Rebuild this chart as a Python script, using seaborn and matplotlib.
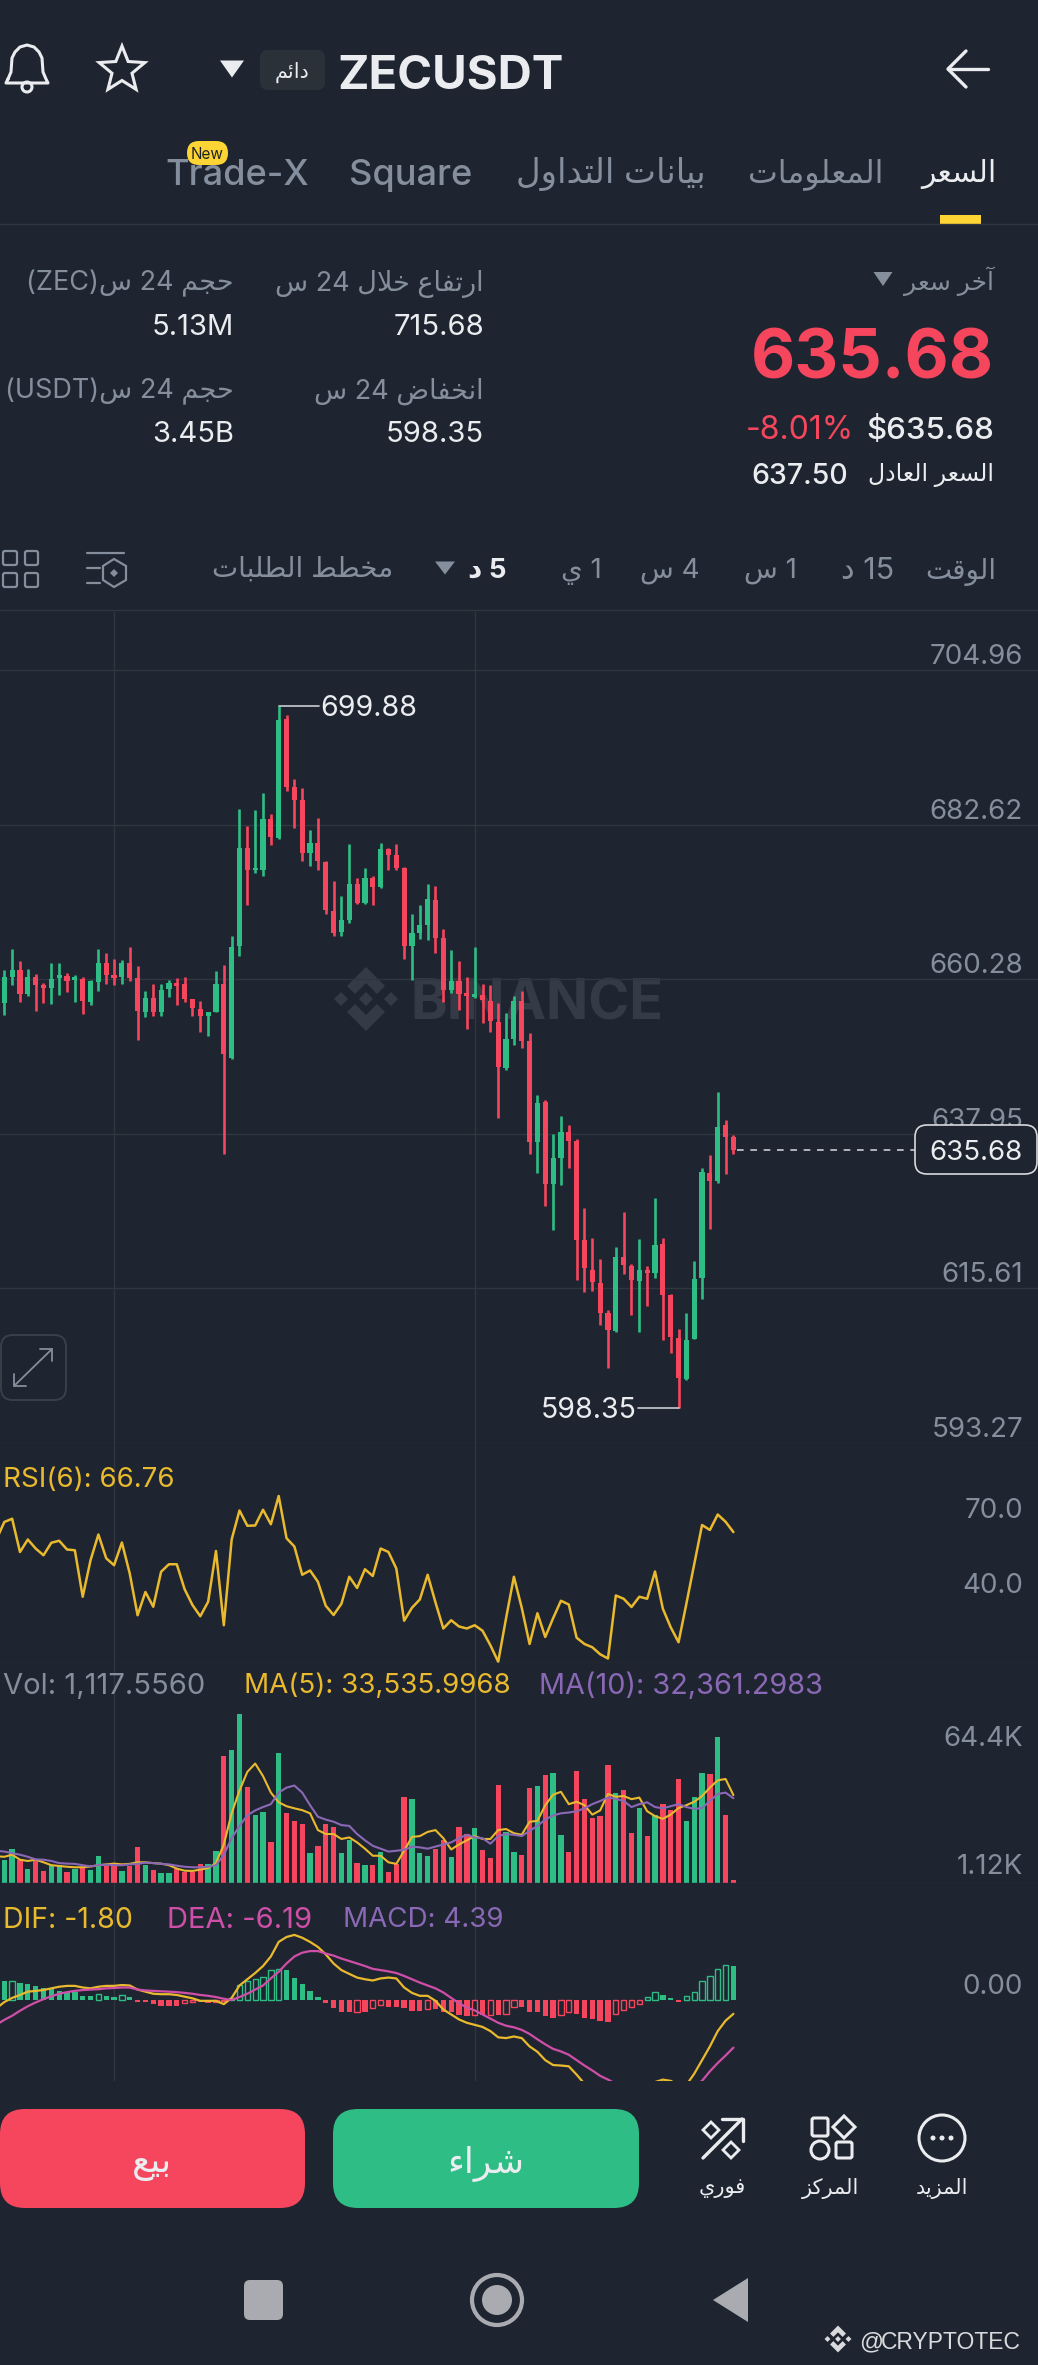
import re
import numpy as np
import pandas as pd
import matplotlib
matplotlib.use('Agg')
import matplotlib.pyplot as plt
import seaborn as sns
from matplotlib.patches import FancyBboxPatch, Polygon, Circle

W, H = 1038, 2365
BG = '#1f2530'
GRID = '#30363f'
GREEN = '#2ebd85'
RED = '#f6465d'
YELLOW = '#e9b92e'
PINK = '#cf4fa8'
PURPLE = '#8a68b5'
GRAY = '#848e9c'
WHITE = '#eaecef'

# candles
opens = [656.86, 660.62, 661.59, 658.21, 660.62, 659.42, 659.03, 660.48, 660.77, 660.14,
         660.33, 657.01, 659.85, 662.64, 660.96, 660.62, 662.64, 660.48, 655.52, 657.59,
         655.52, 658.89, 659.75, 659.66, 657.44, 656.05, 654.94, 655.56, 659.56, 648.92,
         665.15, 679.22, 676.04, 676.13, 683.50, 680.71, 697.91, 688.18, 686.20, 678.54,
         679.99, 677.24, 670.21, 667.08, 668.81, 674.06, 671.41, 675.02, 673.63, 679.19,
         678.22, 676.39, 665.08, 666.96, 668.22, 671.82, 666.22, 658.79, 660.05, 658.22,
         657.76, 658.10, 657.19, 654.10, 647.48, 651.65, 657.19, 651.36, 636.79, 642.50,
         630.68, 634.50, 638.20, 636.96, 622.68, 618.33, 616.39, 612.05, 609.53, 620.22,
         618.91, 616.73, 618.33, 617.82, 622.11, 614.62, 608.51, 602.51, 608.33, 617.08,
         632.33, 631.08, 639.19, 637.54]
closes = [660.62, 661.59, 658.21, 660.57, 659.52, 659.03, 660.38, 660.86, 660.09, 660.62,
          657.11, 660.00, 662.64, 660.96, 660.48, 662.64, 660.48, 655.66, 657.59, 655.52,
          658.79, 659.75, 659.27, 657.44, 656.14, 654.94, 655.56, 659.56, 649.50, 665.05,
          679.22, 676.04, 676.37, 683.45, 680.95, 697.81, 688.18, 686.25, 678.54, 679.99,
          677.34, 670.26, 666.98, 668.81, 674.06, 671.41, 675.02, 673.63, 679.17, 678.33,
          676.39, 665.19, 666.96, 668.16, 671.93, 666.22, 658.79, 660.05, 658.22, 657.88,
          658.22, 657.25, 654.22, 647.65, 651.65, 657.19, 651.36, 636.79, 642.45, 630.68,
          634.45, 638.20, 636.96, 622.68, 618.51, 616.51, 612.10, 609.65, 620.22, 618.96,
          616.79, 618.33, 617.82, 621.93, 614.62, 608.62, 602.62, 608.11, 616.96, 632.50,
          631.19, 638.96, 637.54, 635.68]
highs = [661.68, 664.67, 662.98, 661.83, 661.05, 659.75, 662.64, 662.64, 661.20, 660.86,
         660.62, 660.24, 664.67, 664.09, 663.22, 663.13, 664.96, 662.26, 658.55, 659.61,
         659.61, 660.24, 660.48, 660.62, 657.49, 657.11, 655.56, 661.54, 662.40, 666.50,
         684.95, 682.49, 684.80, 687.31, 684.23, 699.88, 698.53, 689.28, 687.93, 681.91,
         683.60, 677.34, 674.45, 672.28, 679.89, 674.93, 676.37, 675.31, 680.00, 679.36,
         679.82, 676.50, 669.82, 671.07, 674.05, 673.82, 667.59, 664.50, 662.90, 660.62,
         664.96, 659.65, 659.53, 656.90, 655.47, 657.93, 658.68, 652.50, 643.65, 642.90,
         637.93, 640.50, 639.25, 637.19, 627.19, 622.90, 619.93, 612.51, 621.65, 626.68,
         619.08, 622.79, 618.79, 628.62, 622.90, 614.79, 609.82, 612.11, 619.65, 632.96,
         634.96, 644.05, 639.93, 637.76]
lows = [655.18, 659.42, 657.01, 657.92, 655.66, 656.86, 656.72, 658.07, 658.45, 657.06,
        655.32, 656.53, 658.55, 659.66, 659.42, 659.66, 660.00, 651.57, 654.84, 655.03,
        655.03, 657.68, 656.62, 657.01, 655.03, 652.67, 652.14, 655.52, 635.00, 648.77,
        663.70, 670.98, 675.65, 675.31, 679.75, 680.56, 687.60, 682.15, 677.34, 676.71,
        676.04, 669.73, 666.50, 666.50, 668.52, 671.17, 671.22, 670.98, 673.58, 676.10,
        676.10, 663.25, 660.16, 666.10, 665.93, 664.05, 657.08, 658.33, 655.93, 653.08,
        657.65, 653.93, 652.68, 640.20, 647.25, 650.79, 650.33, 635.08, 632.33, 627.48,
        624.05, 630.50, 633.08, 616.79, 615.08, 615.19, 610.39, 604.11, 609.36, 617.65,
        611.71, 609.36, 613.08, 617.08, 608.11, 606.22, 598.35, 602.34, 608.33, 614.11,
        624.22, 630.90, 632.10, 635.08]

# the indicator lines start one bar left of the screen edge, hence one value more
rsi = [63.8, 70.8, 72.1, 58.8, 63.8, 60.2, 57.5, 62.5, 63.3, 59.8, 59.5, 40.9, 55.5, 65.8, 56.3, 53.5, 62.6,
       50.2, 33.5, 42.8, 36.9, 50.9, 53.9, 53.9, 43.9, 37.6, 33.1, 38.9, 59.2, 29.5, 63.8, 75.4, 69.3,
       69.4, 75.7, 69.9, 81.2, 64.3, 61.0, 49.7, 51.4, 46.9, 37.3, 33.6, 38.1, 48.9, 44.4, 51.9, 49.2,
       60.2, 58.8, 52.2, 31.3, 36.5, 39.8, 49.7, 38.6, 28.2, 31.5, 29.0, 28.2, 29.5, 27.3, 21.5, 14.9,
       32.3, 48.9, 36.5, 22.0, 34.3, 24.8, 32.3, 39.3, 37.8, 24.5, 22.0, 20.7, 17.9, 16.2, 41.4, 40.1,
       36.8, 40.9, 40.1, 51.0, 36.1, 28.7, 22.7, 38.1, 53.9, 69.6, 67.6, 73.8, 70.9, 66.76]

# volume in thousands
volume = [8.9, 13.1, 8.9, 5.2, 8.4, 4.4, 6.8, 6.8, 4.1, 5.5, 6.0, 5.1, 10.3, 6.5, 6.3, 4.4, 6.5, 13.6,
          6.8, 4.9, 4.0, 3.8, 5.2, 4.1, 4.1, 7.3, 7.3, 12.3, 48.6, 50.6, 64.4, 36.7, 26.1, 27.1, 15.5,
          49.5, 26.6, 23.7, 22.6, 11.5, 14.2, 22.6, 21.5, 11.5, 16.3, 7.6, 7.0, 6.8, 12.0, 4.1, 7.3,
          32.7, 32.0, 11.4, 10.4, 13.1, 16.3, 10.1, 21.5, 18.7, 21.0, 12.7, 9.5, 37.3, 19.5, 12.0, 10.8,
          36.1, 37.2, 41.4, 42.1, 18.2, 11.7, 42.7, 32.1, 25.0, 25.5, 45.1, 34.2, 35.6, 19.0, 28.5, 17.9,
          25.8, 30.2, 27.7, 39.6, 23.7, 32.9, 41.9, 41.6, 55.7, 26.1, 1.12]
vol_ma5 = [10.2, 10.0, 10.8, 8.9, 8.4, 8.9, 7.9, 6.8, 6.5, 6.2, 6.0, 6.0, 6.3, 6.8, 7.1, 7.4, 7.1, 7.3, 7.9,
           7.9, 7.6, 7.4, 6.8, 5.5, 4.7, 4.6, 5.1, 5.7, 7.6, 14.7, 26.6, 35.3, 42.4, 45.6, 40.8, 34.5,
           30.8, 29.3, 28.5, 27.8, 26.6, 20.2, 18.7, 18.7, 16.8, 17.4, 15.5, 13.1, 10.4, 10.4, 7.9, 7.3,
           12.3, 17.6, 17.9, 19.5, 20.2, 17.1, 12.8, 14.7, 16.3, 17.9, 16.8, 16.8, 20.2, 20.6, 19.0, 18.4,
           23.4, 23.7, 29.7, 33.7, 34.8, 30.1, 31.0, 29.7, 26.1, 27.7, 34.0, 32.9, 33.2, 32.0, 32.6, 27.4,
           25.5, 24.5, 26.1, 28.6, 29.7, 31.0, 33.2, 36.4, 39.2, 39.7, 33.54]
vol_ma10 = [12.3, 12.0, 11.4, 10.8, 10.0, 9.0, 8.9, 8.4, 7.6, 7.4, 7.3, 6.8, 6.3, 6.8, 7.0, 6.8, 6.8, 7.1, 7.3,
            7.8, 7.6, 7.3, 7.1, 6.6, 6.2, 6.0, 6.0, 6.2, 6.8, 10.8, 17.1, 21.8, 25.8, 27.7, 29.0, 30.1,
            34.5, 36.4, 37.2, 34.5, 29.7, 25.3, 24.2, 23.4, 22.1, 21.8, 18.7, 16.3, 14.2, 13.1, 12.0, 12.3,
            12.7, 13.9, 13.6, 13.1, 13.9, 14.7, 15.5, 17.1, 18.4, 17.4, 17.1, 15.0, 17.9, 18.7, 18.4, 17.9,
            19.9, 21.8, 24.2, 25.8, 26.6, 26.9, 27.4, 28.5, 30.1, 31.3, 32.6, 32.1, 31.3, 29.0, 30.1, 30.8,
            29.0, 28.5, 29.3, 30.1, 29.0, 28.3, 28.6, 31.3, 34.0, 34.5, 32.36]

macd = [2.4, 2.5, 2.15, 2.05, 1.8, 1.6, 1.5, 1.2, 1.0, 1.0, 0.55, 0.55, 0.8, 0.5, 0.45, 0.7, 0.4,
        -0.2, -0.2, -0.5, -0.8, -0.8, -0.8, -0.4, -0.2, -0.3, -0.4, -0.3, -0.1, 0.2, 2.0, 2.5, 2.7,
        3.0, 3.9, 4.0, 3.9, 2.9, 2.1, 1.2, 0.4, -0.4, -1.0, -1.5, -1.6, -1.5, -1.5, -1.0, -0.7, -0.9,
        -0.9, -1.1, -1.4, -1.4, -1.2, -1.2, -1.6, -1.6, -1.9, -2.1, -2.0, -2.0, -1.9, -1.9, -1.8, -0.9,
        -0.9, -1.5, -1.6, -2.1, -2.4, -1.9, -1.6, -1.8, -2.3, -2.5, -2.7, -2.9, -1.8, -1.3, -0.9, -0.5,
        0.4, 1.0, 0.6, 0.3, -0.2, 0.5, 1.0, 2.5, 3.1, 4.0, 4.5, 4.39]
dif = [-1.08, -0.27, 0.27, 0.65, 1.08, 1.18, 1.29, 1.51, 1.72, 1.83, 1.83, 1.62, 1.51, 1.72, 1.83, 1.83, 1.94,
       1.88, 1.35, 1.08, 0.81, 0.75, 0.75, 0.65, 0.43, 0.22, -0.11, -0.11, -0.11, -0.54, 0.27, 1.88, 2.69,
       3.5, 4.41, 5.65, 7.54, 8.18, 8.45, 8.08, 7.54, 6.89, 5.92, 4.74, 3.88, 3.39, 2.91, 2.69, 2.53, 2.8,
       2.91, 2.8, 1.62, 0.92, 0.54, 0.54, -0.11, -1.24, -1.88, -2.53, -2.96, -3.23, -3.5, -4.04, -4.85,
       -4.95, -4.74, -4.95, -6.03, -6.73, -7.81, -8.45, -8.51, -8.61, -9.69, -10.88, -11.58, -12.11, -12.65,
       -12.92, -12.65, -12.28, -11.84, -11.2, -10.66, -10.34, -10.5, -11.04, -11.04, -9.58, -7.81, -6.03,
       -4.04, -2.69, -1.8]
dea = [-3.2, -2.58, -2.05, -1.4, -0.81, -0.32, 0.11, 0.48, 0.81, 1.02, 1.18, 1.29, 1.35, 1.4, 1.51, 1.56, 1.62,
       1.62, 1.35, 1.24, 1.18, 1.13, 1.08, 1.02, 0.92, 0.81, 0.65, 0.54, 0.38, 0.16, 0.0, 0.38, 0.81, 1.35,
       1.88, 2.8, 3.66, 4.74, 5.65, 6.14, 6.35, 6.35, 6.03, 5.76, 5.38, 5.06, 4.74, 4.41, 4.04, 3.88, 3.71,
       3.5, 3.12, 2.69, 2.26, 1.88, 1.51, 0.97, 0.27, -0.43, -0.97, -1.35, -1.88, -2.42, -2.96, -3.34, -3.55,
       -3.88, -4.41, -5.11, -5.76, -6.35, -6.68, -7.11, -7.81, -8.51, -9.15, -9.85, -10.34, -10.88, -11.31,
       -11.58, -11.84, -11.95, -11.95, -11.84, -11.84, -11.84, -11.58, -11.2, -10.5, -9.26, -8.18, -7.21, -6.19]

price_ticks = [704.96, 682.62, 660.28, 637.95, 615.61, 593.27]
rsi_ticks = [70.0, 40.0]
time_ticks = [14, 60]

df = pd.DataFrame({'i': np.arange(len(opens)), 'open': opens, 'close': closes, 'high': highs, 'low': lows,
                   'volume': volume, 'macd': macd})
df['side'] = np.where(df['close'] >= df['open'], 'up', 'down')
df['macd_side'] = np.where(df['macd'] >= 0, 'up', 'down')
df['hollow'] = df['macd'] > df['macd'].shift(1)
lines = pd.DataFrame({'i': np.arange(-1, len(opens)), 'rsi': rsi, 'ma5': vol_ma5, 'ma10': vol_ma10,
                      'dif': dif, 'dea': dea})
SIDE = {'up': GREEN, 'down': RED}

sns.set_theme(style='dark', rc={'figure.facecolor': BG, 'axes.facecolor': BG, 'savefig.facecolor': BG,
                                'grid.color': GRID, 'grid.linewidth': 1.0, 'axes.axisbelow': True,
                                'patch.linewidth': 0, 'patch.edgecolor': 'none'})
plt.rcParams['font.family'] = ['Inter', 'DejaVu Sans']

# Arabic needs shaping by hand, matplotlib draws isolated letters otherwise
AR4 = {'ئ': 0xFE89, 'ب': 0xFE8F, 'ت': 0xFE95, 'ج': 0xFE9D, 'ح': 0xFEA1, 'خ': 0xFEA5, 'س': 0xFEB1, 'ش': 0xFEB5,
       'ض': 0xFEBD, 'ط': 0xFEC1, 'ع': 0xFEC9, 'غ': 0xFECD, 'ف': 0xFED1, 'ق': 0xFED5, 'ك': 0xFED9, 'ل': 0xFEDD,
       'م': 0xFEE1, 'ن': 0xFEE5, 'ي': 0xFEF1}
AR2 = {'ا': 0xFE8D, 'آ': 0xFE81, 'د': 0xFEA9, 'ر': 0xFEAD, 'ز': 0xFEAF, 'و': 0xFEED}


def shape(run):
    out = []
    for n, c in enumerate(run):
        prev = run[n - 1] if n else ''
        nxt = run[n + 1] if n + 1 < len(run) else ''
        if c == 'ء':
            out.append(chr(0xFE80))
        elif c == 'ل' and nxt == 'ا':
            out.append(chr(0xFEFC if prev in AR4 else 0xFEFB))
        elif c == 'ا' and prev == 'ل':
            continue
        elif c in AR4 or c in AR2:
            base = AR4.get(c, AR2.get(c))
            form = (1 if prev in AR4 else 0) + (2 if c in AR4 and (nxt in AR4 or nxt in AR2) else 0)
            out.append(chr(base + form))
        else:
            out.append(c)
    return ''.join(reversed(out))


def ar(s):
    runs = re.findall(r'[\u0600-\u06FF ]+|[^\u0600-\u06FF ]+', s)
    return ''.join(shape(r) if re.search(r'[\u0600-\u06FF ]', r) else r for r in reversed(runs))


fig = plt.figure(figsize=(W / 100, H / 100), dpi=100)


def pane(top, bottom, ylim):
    ax = fig.add_axes([0, 1 - bottom / H, 1, (bottom - top) / H])
    ax.set_facecolor(BG)
    return ax, ylim


def finish(ax, ylim, yticks=()):
    # same x mapping in every pane, about 7.84 px per candle
    ax.set_xlim(-0.548, 131.85)
    ax.set_ylim(*ylim)
    ax.set_xticks(time_ticks)
    ax.set_yticks(list(yticks))
    ax.grid(True, axis='both', color=GRID, lw=1.0)
    ax.tick_params(length=0, labelbottom=False, labelleft=False)
    ax.set_xlabel('')
    ax.set_ylabel('')
    for name, sp in ax.spines.items():
        sp.set_visible(name == 'bottom')
        sp.set_color(GRID)
        sp.set_linewidth(1.0)


def right_label(ax, s, y, off=0):
    ax.annotate(s, (1023 / W, y), xycoords=ax.get_yaxis_transform(), xytext=(0, off), textcoords='offset points',
                ha='right', va='bottom', color=GRAY, fontsize=20, zorder=5)


# price pane
ax_p, ylim_p = pane(612, 1443, (593.27, 713.41))
sign = df['side'].map(SIDE)
ax_p.vlines(df['i'], df['low'], df['high'], colors=sign, lw=1.9, zorder=3)
body = (df['close'] - df['open']).abs().clip(lower=0.4)
ax_p.bar(df['i'], body, bottom=df[['open', 'close']].min(axis=1), width=0.66, color=sign, linewidth=0, zorder=3)
finish(ax_p, ylim_p, price_ticks[:-1])
for p in price_ticks:
    right_label(ax_p, f'{p:.2f}', p)

# high and low callouts
ax_p.plot([35, 40.2], [699.88, 699.88], color='#c9ccd1', lw=1.2, zorder=4)
ax_p.text(40.3, 699.88, '699.88', color=WHITE, fontsize=20.5, va='center_baseline', ha='left', zorder=4)
ax_p.plot([86, 80.8], [598.35, 598.35], color='#c9ccd1', lw=1.2, zorder=4)
ax_p.text(80.7, 598.35, '598.35', color=WHITE, fontsize=20.5, va='center_baseline', ha='right', zorder=4)
ax_p.plot([93.4, 116.2], [635.68, 635.68], color='#c9ccd1', lw=1.2, ls=(0, (4, 4)), zorder=4)

# rsi pane
ax_r, ylim_r = pane(1443, 1663, (14.4, 102.4))
sns.lineplot(data=lines, x='i', y='rsi', color=YELLOW, lw=1.8, ax=ax_r, errorbar=None)
finish(ax_r, ylim_r)
for v in rsi_ticks:
    right_label(ax_r, f'{v:.1f}', v)

# volume pane
ax_v, ylim_v = pane(1663, 1883, (0, 83.97))
sns.barplot(data=df, x='i', y='volume', hue='side', palette=SIDE, native_scale=True, width=0.68, dodge=False,
            legend=False, saturation=1, linewidth=0, ax=ax_v)
sns.lineplot(data=lines, x='i', y='ma5', color=YELLOW, lw=1.5, ax=ax_v, errorbar=None)
sns.lineplot(data=lines, x='i', y='ma10', color=PURPLE, lw=1.5, ax=ax_v, errorbar=None)
finish(ax_v, ylim_v)
right_label(ax_v, '64.4K', 64.4, off=-27)
right_label(ax_v, '1.12K', 1.12)

# macd pane
ax_m, ylim_m = pane(1883, 2081, (-10.52, 15.19))
sns.barplot(data=df, x='i', y='macd', hue='macd_side', palette=SIDE, native_scale=True, width=0.68, dodge=False,
            legend=False, saturation=1, linewidth=0, ax=ax_m)
for container in ax_m.containers:
    for bar in container:
        k = int(round(bar.get_x() + bar.get_width() / 2))
        if df['hollow'].iloc[k]:
            bar.set_edgecolor(bar.get_facecolor())
            bar.set_facecolor(BG)
            bar.set_linewidth(1.0)
sns.lineplot(data=lines, x='i', y='dif', color=YELLOW, lw=1.6, ax=ax_m, errorbar=None)
sns.lineplot(data=lines, x='i', y='dea', color=PINK, lw=1.6, ax=ax_m, errorbar=None)
finish(ax_m, ylim_m)
ax_m.spines['bottom'].set_visible(False)
right_label(ax_m, '0.00', 0)

# everything that is app chrome goes on one pixel-space layer
ui = fig.add_axes([0, 0, 1, 1], zorder=10)
ui.set_xlim(0, W)
ui.set_ylim(H, 0)
ui.axis('off')
ui.patch.set_alpha(0)


def t(x, y, s, size=15, color=WHITE, ha='right', weight='normal', **kw):
    return ui.text(x, y, s, fontsize=size, color=color, ha=ha, va='center_baseline', fontweight=weight, **kw)


def box(x0, y0, x1, y1, r, fc='none', ec='none', lw=1.0):
    ui.add_patch(FancyBboxPatch((x0, y0), x1 - x0, y1 - y0, boxstyle=f'round,pad=0,rounding_size={r}',
                                fc=fc, ec=ec, lw=lw))


def tri(cx, cy, w, h, color):
    ui.add_patch(Polygon([(cx - w / 2, cy - h / 2), (cx + w / 2, cy - h / 2), (cx, cy + h / 2)], fc=color, ec='none'))


def diamond(cx, cy, r, fc='none', ec='none', lw=1.0):
    ui.add_patch(Polygon([(cx, cy - r), (cx + r, cy), (cx, cy + r), (cx - r, cy)], fc=fc, ec=ec, lw=lw))


def binance_logo(target, cx, cy, s, color):
    for dx in (-25, 0, 25):
        target.add_patch(Polygon([(cx + dx * s, cy - 7 * s), (cx + (dx + 7) * s, cy), (cx + dx * s, cy + 7 * s),
                                  (cx + (dx - 7) * s, cy)], fc=color, ec='none'))
    for d in (-1, 1):
        pts = [(0, 32), (19, 13), (11, 5), (0, 16), (-11, 5), (-19, 13)]
        target.add_patch(Polygon([(cx + a * s, cy + d * b * s) for a, b in pts], fc=color, ec='none'))


# watermark sits under the candles, so it gets its own layer below the price axes
wm = fig.add_axes([0, 0, 1, 1], zorder=-1)
wm.set_xlim(0, W)
wm.set_ylim(H, 0)
wm.axis('off')
ax_p.patch.set_alpha(0)
binance_logo(wm, 366, 999, 1.0, '#353b46')
wm.text(410, 999, 'BINANCE', color='#353b46', fontsize=40, fontweight='bold', ha='left', va='center_baseline')

# header
bell_x = [8, 11, 12, 15, 20, 27, 34, 39, 42, 43, 46, 48, 6, 8]
bell_y = [79, 72, 58, 52, 47, 45, 47, 52, 58, 72, 79, 83, 83, 79]
ui.plot(bell_x, bell_y, color=WHITE, lw=2.2)
ui.add_patch(Circle((27, 87), 5, fc='none', ec=WHITE, lw=2.2))
ang = np.deg2rad(np.arange(-90, 270, 36))
rad = np.where(np.arange(10) % 2 == 0, 24, 10.5)
ui.add_patch(Polygon(np.c_[122 + rad * np.cos(ang), 70 + rad * np.sin(ang)], fc='none', ec=WHITE, lw=2.2))
tri(232, 69, 24, 17, WHITE)
box(260, 50, 325, 90, 8, fc='#2b3139')
t(292, 70, ar('دائم'), size=15, ha='center')
t(337, 71, 'ZECUSDT', size=34, ha='left', weight='bold')
ui.plot([948, 988], [69, 69], color=WHITE, lw=2.4)
ui.plot([966, 948, 966], [51, 69, 87], color=WHITE, lw=2.4)

# tabs
t(996, 170, ar('السعر'), size=21.5)
t(883, 170, ar('المعلومات'), size=22.8, color=GRAY)
t(706, 170, ar('بيانات التداول'), size=24.5, color=GRAY)
t(472, 172, 'Square', size=26, color=GRAY, weight='medium')
t(309, 172, 'Trade-X', size=26, color=GRAY, weight='medium')
box(187, 141, 228, 165, 12, fc='#fcd535')
t(207.5, 153, 'New', size=11, color='#1e2329', ha='center')
ui.plot([0, W], [224, 224], color=GRID, lw=1.0)
ui.add_patch(plt.Rectangle((940, 215), 41, 9, fc='#fcd535', ec='none'))

# price block
t(994, 278, ar('آخر سعر'), size=18, color=GRAY)
tri(883, 279, 19, 14, GRAY)
t(994, 353, '635.68', size=49, color=RED, weight='bold')
t(994, 427, '$635.68', size=22.5, weight='medium')
t(854, 427, '-8.01%', size=23, color=RED)
t(994, 472, ar('السعر العادل'), size=17)
t(848, 473, '637.50', size=20.5, weight='medium')

for x, s, v in [(484, 'ارتفاع خلال 24 س', '715.68'), (234, 'حجم 24 س(ZEC)', '5.13M')]:
    t(x, 280, ar(s), size=19.5, color=GRAY)
    t(x, 324, v, size=21)
for x, s, v in [(484, 'انخفاض 24 س', '598.35'), (234, 'حجم 24 س(USDT)', '3.45B')]:
    t(x, 388, ar(s), size=19.5, color=GRAY)
    t(x, 431, v, size=21)

# interval row
t(996, 568, ar('الوقت'), size=20, color=GRAY)
t(894, 568, ar('15 د'), size=22, color=GRAY)
t(797, 568, ar('1 س'), size=20, color=GRAY)
t(700, 568, ar('4 س'), size=20, color=GRAY)
t(602, 568, ar('1 ي'), size=20, color=GRAY)
t(507, 568, ar('5 د'), size=20, weight='bold')
tri(445, 568, 20, 13, GRAY)
t(393, 567, ar('مخطط الطلبات'), size=20, color=GRAY)
for x0, x1 in [(3, 17), (25, 38)]:
    for y0, y1 in [(551, 565), (573, 587)]:
        box(x0, y0, x1, y1, 2, ec=GRAY, lw=1.6)
ui.plot([87, 124], [553, 553], color=GRAY, lw=1.6)
ui.plot([87, 100], [568, 568], color=GRAY, lw=1.6)
ui.plot([87, 100], [583, 583], color=GRAY, lw=1.6)
ui.add_patch(Polygon([(114, 559), (126, 566), (126, 580), (114, 587), (103, 580), (103, 566)], fc='none', ec=GRAY, lw=1.6))
diamond(114, 573, 4, fc=GRAY)
ui.plot([0, W], [610, 610], color=GRID, lw=1.0)

# last price tag and expand button
box(915, 1125, 1037, 1174, 12, fc=BG, ec='#d7d9dc', lw=1.2)
t(976, 1150, '635.68', size=20, ha='center')
box(1, 1335, 66, 1400, 12, fc=BG, ec='#3a404a', lw=1.4)
ui.plot([14, 52], [1386, 1349], color=GRAY, lw=1.3)
ui.plot([14, 14, 26], [1374, 1386, 1386], color=GRAY, lw=1.3)
ui.plot([40, 52, 52], [1349, 1349, 1361], color=GRAY, lw=1.3)

# indicator headers
t(3, 1477, 'RSI(6): 66.76', size=20, color=YELLOW, ha='left')
t(3, 1683, 'Vol: 1,117.5560', size=21, color=GRAY, ha='left')
t(244, 1683, 'MA(5): 33,535.9968', size=20, color=YELLOW, ha='left')
t(539, 1683, 'MA(10): 32,361.2983', size=20.8, color=PURPLE, ha='left')
t(3, 1917, 'DIF: -1.80', size=20.5, color=YELLOW, ha='left')
t(167, 1917, 'DEA: -6.19', size=21, color=PINK, ha='left')
t(343, 1917, 'MACD: 4.39', size=20, color=PURPLE, ha='left')

# order buttons
box(0, 2109, 305, 2208, 25, fc=RED)
box(333, 2109, 639, 2208, 25, fc=GREEN)
t(152, 2160, ar('بيع'), size=26, ha='center')
t(486, 2160, ar('شراء'), size=26, ha='center')

# bottom icons
ui.plot([703, 742], [2158, 2119], color=WHITE, lw=2.4)
ui.plot([722, 743, 743], [2119, 2119, 2141], color=WHITE, lw=2.4)
diamond(711, 2130, 8, ec=WHITE, lw=2.0)
diamond(731, 2150, 8, ec=WHITE, lw=2.0)
box(812, 2118, 828, 2136, 2, ec=WHITE, lw=2.2)
diamond(844, 2127, 11, ec=WHITE, lw=2.2)
ui.add_patch(Circle((820, 2150), 9, fc='none', ec=WHITE, lw=2.2))
box(836, 2142, 852, 2158, 2, ec=WHITE, lw=2.2)
ui.add_patch(Circle((942, 2138), 23, fc='none', ec=WHITE, lw=2.2))
for dx in (-9, 0, 9):
    ui.add_patch(Circle((942 + dx, 2138), 2.5, fc=WHITE, ec='none'))
t(722, 2186, ar('فوري'), size=15, ha='center')
t(831, 2186, ar('المركز'), size=15, ha='center')
t(942, 2186, ar('المزيد'), size=15, ha='center')

# android nav bar
NAV = '#a9abb0'
box(244, 2280, 283, 2320, 6, fc=NAV)
ui.add_patch(Circle((497, 2300), 25, fc='none', ec=NAV, lw=3))
ui.add_patch(Circle((497, 2300), 15, fc=NAV, ec='none'))
ui.add_patch(Polygon([(748, 2278), (748, 2322), (713, 2300)], fc=NAV, ec='none'))

# corner watermark
binance_logo(ui, 838, 2339, 0.42, '#d9dadd')
t(859, 2340, '@', size=17, ha='left', color='#d9dadd', family='Liberation Sans')
t(881, 2340, 'CRYPTOTEC', size=16.5, ha='left', color='#d9dadd', family='Liberation Sans')

fig.savefig('out.png', dpi=100, facecolor=BG)
